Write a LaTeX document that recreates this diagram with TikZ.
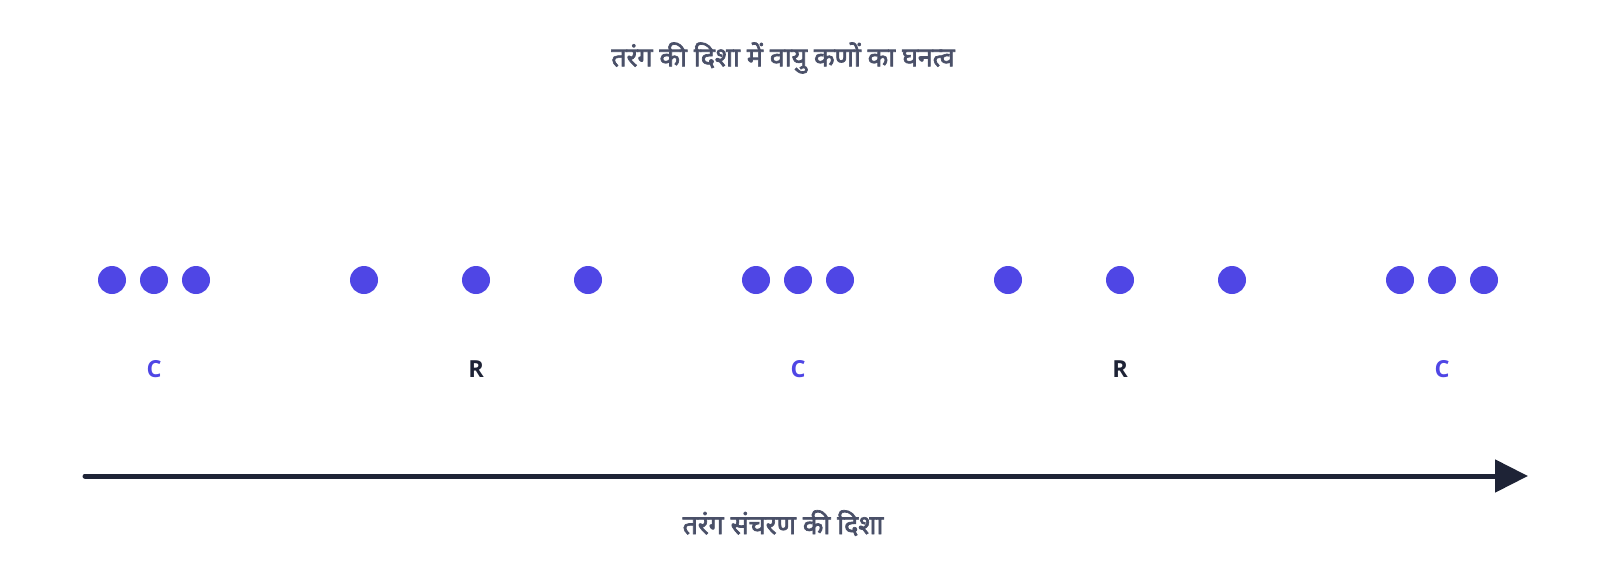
\documentclass[tikz,border=0pt]{standalone}
\usepackage{fontspec}
\setmainfont{Open Sans}
\newfontfamily\devfont[Script=Devanagari,FakeBold=2.5]{Noto Sans}
\usetikzlibrary{arrows.meta}
\definecolor{dotblue}{HTML}{4F46E5}
\definecolor{darkink}{HTML}{1E2336}
\definecolor{slatetext}{HTML}{4A5068}
\begin{document}
\begin{tikzpicture}[x=1pt,y=-1pt,
    particle/.style={circle, fill=dotblue, inner sep=0pt, minimum size=28pt},
    zonelabel/.style={font=\fontsize{23.5}{27}\selectfont\bfseries},
    caption/.style={font=\devfont\fontsize{26.7}{30}\selectfont, text=slatetext}]
                    % Frame of the picture
                    \useasboundingbox (0,0) rectangle (1600,571);

                    % Title
                    \node[caption] (title) at (783,58) {तरंग की दिशा में वायु कणों का घनत्व};

                    % Air particles (compressions and rarefactions)
                    \foreach \x [count=\i] in {112,154,196,364,476,588,756,798,840,1008,1120,1232,1400,1442,1484} {
                        \node[particle] (p\i) at (\x,280) {};
                    }

                    % Labels for zones
                    \node[zonelabel, text=dotblue] (c1) at (154,369) {C};
                    \node[zonelabel, text=darkink] (r1) at (476,369) {R};
                    \node[zonelabel, text=dotblue] (c2) at (798,369) {C};
                    \node[zonelabel, text=darkink] (r2) at (1120,369) {R};
                    \node[zonelabel, text=dotblue] (c3) at (1442,369) {C};

                    % Direction of propagation
                    \coordinate (start) at (85,476);
                    \coordinate (end) at (1528,476);
                    \draw[line width=5pt, line cap=round, darkink, -{Triangle[length=33pt,width=32pt]}] (start) -- (end);
                    \node[caption] (dir) at (783,523) {तरंग संचरण की दिशा};
                \end{tikzpicture}
\end{document}
